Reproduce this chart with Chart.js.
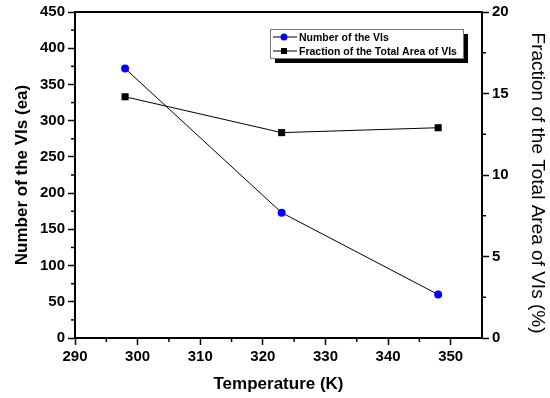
<!DOCTYPE html>
<html>
<head>
<meta charset="utf-8">
<script src="https://cdn.jsdelivr.net/npm/chart.js@4/dist/chart.umd.min.js"></script>
<style>
    html, body { margin: 0; padding: 0; background: #fff; }
    #wrap { width: 550px; height: 398px; }
</style>
</head>
<body>
<div id="wrap"><canvas id="chart" width="550" height="398"></canvas></div>
<script>
const temperatures = [298, 323, 348];
const numberOfVIs = [372, 173, 60];
const fractionArea = [14.8, 12.6, 12.9];

const xTicks = [290, 300, 310, 320, 330, 340, 350];
const yLeftTicks = [0, 50, 100, 150, 200, 250, 300, 350, 400, 450];
const yRightTicks = [0, 5, 10, 15, 20];

const seriesLabels = ['Number of the VIs', 'Fraction of the Total Area of VIs'];
const xTitle = 'Temperature (K)';
const yLeftTitle = 'Number of the VIs (ea)';
const yRightTitle = 'Fraction of the Total Area of VIs (%)';

const fontFamily = 'Liberation Sans, Arial, sans-serif';
const tickFont = { family: fontFamily, size: 15, weight: 'bold' };

// frame + minor ticks + right title
const framePlugin = {
    id: 'frame',
    afterDraw(chart) {
        const ctx = chart.ctx;
        const a = chart.chartArea;
        ctx.save();
        ctx.strokeStyle = '#000';
        ctx.lineWidth = 2;
        ctx.strokeRect(a.left, a.top, a.right - a.left, a.bottom - a.top);

        ctx.lineWidth = 1.5;
        const minor = (scale, values, side) => {
            values.forEach(v => {
                const p = scale.getPixelForValue(v);
                ctx.beginPath();
                if (side === 'bottom') { ctx.moveTo(p, a.bottom); ctx.lineTo(p, a.bottom + 4); }
                if (side === 'left') { ctx.moveTo(a.left, p); ctx.lineTo(a.left - 4, p); }
                if (side === 'right') { ctx.moveTo(a.right, p); ctx.lineTo(a.right + 4, p); }
                ctx.stroke();
            });
        };
        minor(chart.scales.x, [295, 305, 315, 325, 335, 345], 'bottom');
        minor(chart.scales.y, [25, 75, 125, 175, 225, 275, 325, 375, 425], 'left');
        minor(chart.scales.y1, [2.5, 7.5, 12.5, 17.5], 'right');

        // right axis title, sits a bit lower than the axis centre in the original
        ctx.translate(537, 183);
        ctx.rotate(Math.PI / 2);
        ctx.fillStyle = '#000';
        ctx.font = '19px "Liberation Sans", Arial, sans-serif';
        ctx.textAlign = 'center';
        ctx.textBaseline = 'middle';
        ctx.fillText(yRightTitle, 0, 0);
        ctx.restore();
    }
};

// legend box with shadow
const legendPlugin = {
    id: 'boxLegend',
    afterDraw(chart) {
        const ctx = chart.ctx;
        const x = 270, y = 29, w = 193, h = 29;
        ctx.save();
        ctx.fillStyle = '#000';
        ctx.fillRect(x + 5, y + 5, w, h);
        ctx.fillStyle = '#fff';
        ctx.fillRect(x, y, w, h);
        ctx.strokeStyle = '#777';
        ctx.lineWidth = 1;
        ctx.strokeRect(x + 0.5, y + 0.5, w, h);
        ctx.font = 'bold 10.5px "Liberation Sans", Arial, sans-serif';
        ctx.textBaseline = 'middle';
        chart.data.datasets.forEach((ds, i) => {
            const ly = y + 8 + i * 14;
            ctx.strokeStyle = '#000';
            ctx.lineWidth = 1;
            ctx.beginPath();
            ctx.moveTo(x + 3, ly);
            ctx.lineTo(x + 27, ly);
            ctx.stroke();
            ctx.fillStyle = ds.pointBackgroundColor;
            if (ds.pointStyle === 'circle') {
                ctx.beginPath();
                ctx.arc(x + 14, ly, 3.5, 0, Math.PI * 2);
                ctx.fill();
            } else {
                ctx.fillRect(x + 11, ly - 3, 6, 6);
            }
            ctx.fillStyle = '#000';
            ctx.fillText(ds.label, x + 29, ly + 1);
        });
        ctx.restore();
    }
};

const fixedTicks = (values) => (scale) => {
    scale.ticks = values.map(v => ({ value: v }));
};

new Chart(document.getElementById('chart'), {
    type: 'line',
    data: {
        datasets: [
            {
                label: seriesLabels[0],
                data: temperatures.map((t, i) => ({ x: t, y: numberOfVIs[i] })),
                yAxisID: 'y',
                borderColor: '#000',
                borderWidth: 1,
                pointStyle: 'circle',
                pointRadius: 4,
                pointBorderWidth: 0,
                pointBackgroundColor: '#0000ff',
                pointBorderColor: '#0000ff',
                tension: 0
            },
            {
                label: seriesLabels[1],
                data: temperatures.map((t, i) => ({ x: t, y: fractionArea[i] })),
                yAxisID: 'y1',
                borderColor: '#000',
                borderWidth: 1,
                pointStyle: 'rect',
                pointRadius: 5,
                pointBorderWidth: 0,
                pointBackgroundColor: '#000',
                pointBorderColor: '#000',
                tension: 0
            }
        ]
    },
    options: {
        responsive: false,
        animation: false,
        layout: { padding: { top: 11, left: 0, right: 0, bottom: 0 } },
        plugins: {
            legend: { display: false },
            tooltip: { enabled: false }
        },
        scales: {
            x: {
                type: 'linear',
                min: 290,
                max: 355,
                afterBuildTicks: fixedTicks(xTicks),
                afterFit: (scale) => { scale.height = 60; },
                ticks: { color: '#000', font: tickFont, padding: 3, maxRotation: 0 },
                grid: { drawOnChartArea: false, color: '#000', tickLength: 7, tickWidth: 1.5 },
                border: { color: '#000', width: 2 },
                title: {
                    display: true, text: xTitle, color: '#000',
                    font: { family: fontFamily, size: 17, weight: 'bold' },
                    padding: { top: 4, bottom: 3 }
                }
            },
            y: {
                position: 'left',
                min: 0,
                max: 450,
                afterBuildTicks: fixedTicks(yLeftTicks),
                afterFit: (scale) => { scale.width = 75; },
                ticks: { color: '#000', font: tickFont, padding: 3 },
                grid: { drawOnChartArea: false, color: '#000', tickLength: 7, tickWidth: 1.5 },
                border: { color: '#000', width: 2 },
                title: {
                    display: true, text: yLeftTitle, color: '#000',
                    font: { family: fontFamily, size: 17, weight: 'bold' },
                    padding: { top: 12, bottom: 4 }
                }
            },
            y1: {
                position: 'right',
                min: 0,
                max: 20,
                afterBuildTicks: fixedTicks(yRightTicks),
                afterFit: (scale) => { scale.width = 68; },
                ticks: { color: '#000', font: tickFont, padding: 3 },
                grid: { drawOnChartArea: false, color: '#000', tickLength: 7, tickWidth: 1.5 },
                border: { color: '#000', width: 2 },
                title: { display: false }
            }
        }
    },
    plugins: [framePlugin, legendPlugin]
});
</script>
</body>
</html>
